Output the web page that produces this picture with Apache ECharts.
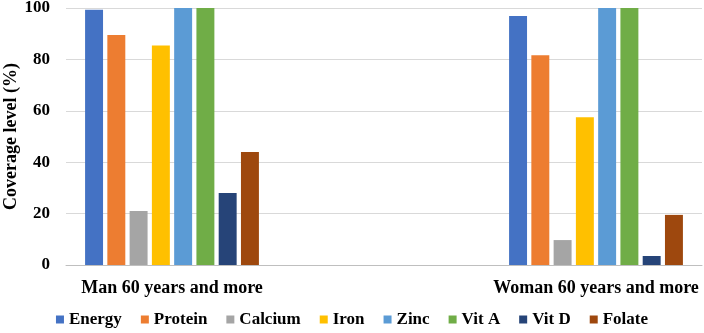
<!DOCTYPE html>
<html><head><meta charset="utf-8">
<script src="https://cdn.jsdelivr.net/npm/echarts@6/dist/echarts.min.js"></script>
<style>html,body{margin:0;padding:0;background:#fff}#c{width:704px;height:333px}</style>
</head><body><div id="c"></div>
<script>
const categories = ['Man 60 years and more', '', 'Woman 60 years and more'];
const seriesNames = ['Energy', 'Protein', 'Calcium', 'Iron', 'Zinc', 'Vit A', 'Vit D', 'Folate'];
const energy = [99.3, null, 96.9];
const protein = [89.5, null, 81.6];
const calcium = [21, null, 9.7];
const iron = [85.4, null, 57.5];
const zinc = [100, null, 100];
const vitA = [100, null, 100];
const vitD = [28, null, 3.5];
const folate = [44, null, 19.5];
const yTicks = [0, 20, 40, 60, 80, 100];
const colors = ['#4472C4', '#ED7D31', '#A5A5A5', '#FFC000', '#5B9BD5', '#70AD47', '#264478', '#9E480E'];
const values = [energy, protein, calcium, iron, zinc, vitA, vitD, folate];
const font = '"Liberation Serif", "Times New Roman", serif';
const chart = echarts.init(document.getElementById('c'));
chart.setOption({
  animation: false,
  color: colors,
  grid: { left: 66, right: 2, top: 8, bottom: 68, containLabel: false, outerBoundsMode: 'none' },
  legend: {
    bottom: 0, left: 'center', itemWidth: 8, itemHeight: 8, itemGap: 19,
    icon: 'rect',
    textStyle: { fontFamily: font, fontWeight: 'bold', fontSize: 17, color: '#000' },
    data: seriesNames
  },
  xAxis: {
    type: 'category', data: categories,
    axisLine: { lineStyle: { color: '#BFBFBF', width: 1 } },
    axisTick: { show: false },
    axisLabel: { interval: 0, margin: 14, fontFamily: font, fontWeight: 'bold', fontSize: 18, color: '#000' }
  },
  yAxis: {
    type: 'value', min: yTicks[0], max: yTicks[yTicks.length - 1], interval: 20,
    name: 'Coverage level (%)', nameLocation: 'middle', nameGap: 46, nameMoveOverlap: false,
    nameTextStyle: { fontFamily: font, fontWeight: 'bold', fontSize: 18, color: '#000' },
    axisLine: { show: false }, axisTick: { show: false },
    axisLabel: { margin: 16, fontFamily: font, fontWeight: 'bold', fontSize: 17, color: '#000' },
    splitLine: { lineStyle: { color: '#D9D9D9', width: 1 } }
  },
  series: seriesNames.map((n, i) => ({
    name: n, type: 'bar', data: values[i],
    barGap: '24%', barCategoryGap: '18%'
  }))
});
</script></body></html>
